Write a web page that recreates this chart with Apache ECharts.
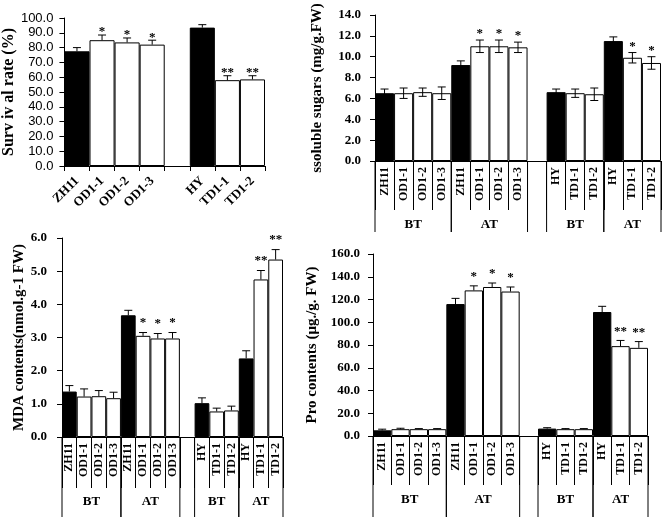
<!DOCTYPE html>
<html lang="en">
<head>
    <meta charset="UTF-8">
    <script src="https://cdn.jsdelivr.net/npm/echarts@6/dist/echarts.min.js"></script>
    <title>Stress tolerance</title>
</head>
<body>
<style>
    html, body {
        margin: 0;
        background: #fff;
    }
    #main {
        width: 670px;
        height: 517px;
    }
</style>
<div id='main'></div>
<script>
    // survival rate panel
    var survCats = ['ZH11', 'OD1-1', 'OD1-2', 'OD1-3', '', 'HY', 'TD1-1', 'TD1-2'];
    var survVals = [77.5, 85.0, 83.5, 82.0, null, 93.5, 58.0, 58.5];
    var survErr = [2.5, 3.5, 3.0, 3.0, null, 2.0, 3.0, 2.5];
    var survSig = ['', '*', '*', '*', '', '', '**', '**'];

    // shared categories of the three BT/AT panels
    var stressCats = ['ZH11', 'OD1-1', 'OD1-2', 'OD1-3', 'ZH11', 'OD1-1', 'OD1-2', 'OD1-3', '',
        'HY', 'TD1-1', 'TD1-2', 'HY', 'TD1-1', 'TD1-2'];
    var groupNames = ['BT', 'AT', 'BT', 'AT'];
    var groupStart = [0, 4, 9, 12];
    var groupEnd = [3, 7, 11, 14];
    var blackBars = ['ZH11', 'HY'];

    var sugarVals = [6.5, 6.5, 6.6, 6.5, 9.2, 11.0, 11.0, 10.9, null, 6.6, 6.5, 6.4, 11.5, 9.9, 9.4];
    var sugarErr = [0.4, 0.5, 0.4, 0.6, 0.4, 0.6, 0.6, 0.5, null, 0.3, 0.4, 0.6, 0.4, 0.5, 0.6];
    var sugarSig = ['', '', '', '', '', '*', '*', '*', '', '', '', '', '', '*', '*'];

    var mdaVals = [1.37, 1.22, 1.23, 1.17, 3.67, 3.05, 2.97, 2.97, null, 1.02, 0.77, 0.80, 2.37, 4.75, 5.35];
    var mdaErr = [0.18, 0.23, 0.17, 0.18, 0.15, 0.10, 0.15, 0.18, null, 0.16, 0.10, 0.13, 0.23, 0.27, 0.30];
    var mdaSig = ['', '', '', '', '', '*', '*', '*', '', '', '', '', '', '**', '**'];

    var proVals = [5.0, 6.0, 6.0, 6.0, 116.0, 128.0, 131.0, 127.0, null, 6.5, 6.0, 6.0, 109.0, 79.0, 77.5];
    var proErr = [1.0, 0.8, 0.5, 0.5, 5.0, 4.0, 3.5, 4.0, null, 0.8, 0.5, 0.5, 5.0, 5.0, 5.5];
    var proSig = ['', '', '', '', '', '*', '*', '*', '', '', '', '', '', '**', '**'];

    var serif = '"Liberation Serif", "Times New Roman", serif';

    var barData = function (cats, vals) {
        return vals.map(function (v, i) {
            return {
                value: v,
                itemStyle: {color: blackBars.indexOf(cats[i]) >= 0 ? '#000' : '#fff'}
            };
        });
    };

    var errData = function (vals, errs) {
        var out = [];
        for (var i = 0; i < vals.length; i++) {
            if (vals[i] != null) out.push([i, vals[i], errs[i]]);
        }
        return out;
    };

    // error bar with cap(s) and significance stars
    var errRender = function (sigs, twoSided, sigGap) {
        return function (params, api) {
            var i = api.value(0), v = api.value(1), e = api.value(2);
            var top = api.coord([i, v + e]);
            var bot = api.coord([i, twoSided ? v - e : v]);
            var w = 4;
            var ls = {stroke: '#000', lineWidth: 1};
            var kids = [
                {type: 'line', shape: {x1: top[0], y1: top[1], x2: bot[0], y2: bot[1]}, style: ls},
                {type: 'line', shape: {x1: top[0] - w, y1: top[1], x2: top[0] + w, y2: top[1]}, style: ls}
            ];
            if (twoSided) {
                kids.push({type: 'line', shape: {x1: bot[0] - w, y1: bot[1], x2: bot[0] + w, y2: bot[1]}, style: ls});
            }
            if (sigs[i]) {
                kids.push({
                    type: 'text',
                    style: {
                        text: sigs[i], x: top[0], y: top[1] - sigGap,
                        align: 'center', verticalAlign: 'middle',
                        font: 'bold 13px ' + serif, fill: '#000'
                    }
                });
            }
            return {type: 'group', children: kids};
        };
    };

    // BT / AT labels and the long group separators under the axis
    var groupRender = function (lineLen, labelDrop) {
        return function (params, api) {
            var p0 = api.coord([api.value(0), 0]);
            var p1 = api.coord([api.value(1), 0]);
            var band = api.size([1, 0])[0];
            var xl = p0[0] - band / 2, xr = p1[0] + band / 2, y = p0[1];
            var ls = {stroke: '#000', lineWidth: 1};
            return {
                type: 'group',
                children: [
                    {type: 'line', shape: {x1: xl, y1: y, x2: xl, y2: y + lineLen}, style: ls},
                    {type: 'line', shape: {x1: xr, y1: y, x2: xr, y2: y + lineLen}, style: ls},
                    {
                        type: 'text',
                        style: {
                            text: groupNames[params.dataIndex], x: (xl + xr) / 2, y: y + labelDrop,
                            align: 'center', verticalAlign: 'middle',
                            font: 'bold 13px ' + serif, fill: '#000'
                        }
                    }
                ]
            };
        };
    };

    var groupData = groupStart.map(function (s, i) {
        return [s, groupEnd[i], 0];
    });

    var yAxisOf = function (grid, max, step, name, gap, nameSize, margin, font) {
        return {
            type: 'value', gridIndex: grid, min: 0, max: max, interval: step,
            name: name, nameLocation: 'middle', nameGap: gap,
            nameTextStyle: {fontFamily: serif, fontWeight: 'bold', fontSize: nameSize, color: '#000'},
            axisLine: {show: true, lineStyle: {color: '#000', width: 1}},
            axisTick: {show: true, length: 5, lineStyle: {color: '#000'}},
            axisLabel: {
                margin: margin, color: '#000',
                fontFamily: font.family, fontWeight: font.weight, fontSize: 13,
                formatter: function (v) { return v.toFixed(1); }
            },
            splitLine: {show: false}
        };
    };

    var xAxisOf = function (grid, cats, tickLen, rotate, margin, size) {
        return {
            type: 'category', gridIndex: grid, data: cats,
            axisLine: {show: true, lineStyle: {color: '#000', width: 1}},
            axisTick: {show: true, interval: 0, length: tickLen, lineStyle: {color: '#000'}},
            axisLabel: {
                interval: 0, rotate: rotate, margin: margin, color: '#000',
                fontFamily: serif, fontWeight: 'bold', fontSize: size
            },
            splitLine: {show: false}
        };
    };

    var serifBold = {family: serif, weight: 'bold'};
    var sans = {family: '"Liberation Sans", Arial, sans-serif', weight: 'normal'};

    var panels = [
        {cats: survCats, vals: survVals, errs: survErr, sigs: survSig, two: false, gap: 3},
        {cats: stressCats, vals: sugarVals, errs: sugarErr, sigs: sugarSig, two: true, gap: 6},
        {cats: stressCats, vals: mdaVals, errs: mdaErr, sigs: mdaSig, two: false, gap: 10},
        {cats: stressCats, vals: proVals, errs: proErr, sigs: proSig, two: false, gap: 9}
    ];

    var series = [];
    panels.forEach(function (p, k) {
        series.push({
            type: 'bar', xAxisIndex: k, yAxisIndex: k,
            barCategoryGap: '0%',
            itemStyle: {borderColor: '#000', borderWidth: 1},
            data: barData(p.cats, p.vals),
            animation: false
        });
        series.push({
            type: 'custom', xAxisIndex: k, yAxisIndex: k, z: 5, silent: true,
            renderItem: errRender(p.sigs, p.two, p.gap),
            encode: {x: 0, y: 1},
            data: errData(p.vals, p.errs),
            animation: false
        });
    });
    var groupRows = [[1, 71, 64], [2, 82, 65], [3, 82, 64]];
    groupRows.forEach(function (g) {
        series.push({
            type: 'custom', xAxisIndex: g[0], yAxisIndex: g[0], silent: true,
            renderItem: groupRender(g[1], g[2]),
            encode: {x: 0, y: 2},
            data: groupData,
            animation: false
        });
    });

    var option = {
        backgroundColor: '#fff',
        animation: false,
        grid: [
            {left: 64, top: 18, width: 201, height: 148},
            {left: 375, top: 15, width: 286, height: 146},
            {left: 62, top: 238, width: 221, height: 199},
            {left: 373, top: 254, width: 275, height: 182}
        ],
        xAxis: [
            xAxisOf(0, survCats, 5, 45, 13, 13),
            xAxisOf(1, stressCats, 49, 90, 6, 12),
            xAxisOf(2, stressCats, 51, 90, 6, 12),
            xAxisOf(3, stressCats, 49, 90, 6, 12)
        ],
        yAxis: [
            yAxisOf(0, 100, 10, 'Surv iv al rate (%)', 45, 16, 11, sans),
            yAxisOf(1, 14, 2, 'ssoluble sugars (mg/g.FW)', 50, 15, 14, serifBold),
            yAxisOf(2, 6, 1, 'MDA contents(nmol.g-1 FW)', 32, 15, 15, serifBold),
            yAxisOf(3, 160, 20, 'Pro contents (μg./g. FW)', 53, 15, 13, serifBold)
        ],
        series: series
    };

    var myChart = echarts.init(document.getElementById('main'));
    myChart.setOption(option, true);
</script>
</body>
</html>
